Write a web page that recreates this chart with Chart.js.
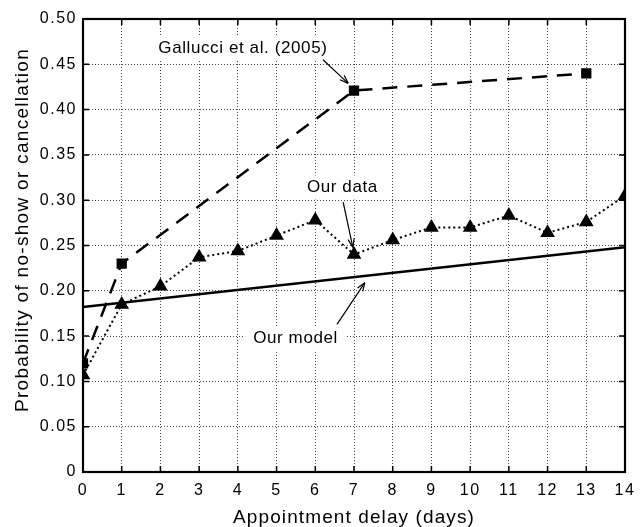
<!DOCTYPE html>
<html>
<head>
<meta charset="utf-8">
<script src="https://cdn.jsdelivr.net/npm/chart.js@4.4.1/dist/chart.umd.min.js"></script>
<style>
  html, body { margin: 0; padding: 0; background: #fff; }
  #wrap { width: 643px; height: 527px; }
</style>
</head>
<body>
<div id="wrap"><canvas id="chart"></canvas></div>
<script>
// --- data ---
const delays = [0, 1, 2, 3, 4, 5, 6, 7, 8, 9, 10, 11, 12, 13, 14];
const ourData = [0.107, 0.185, 0.205, 0.237, 0.244, 0.261, 0.278, 0.240, 0.256, 0.270, 0.270, 0.283, 0.264, 0.276, 0.305];
const galDelays = [0, 1, 7, 13];
const galValues = [0.120, 0.230, 0.421, 0.440];
const modelDelays = [0, 14];
const modelValues = [0.182, 0.248];
const xTicks = [0, 1, 2, 3, 4, 5, 6, 7, 8, 9, 10, 11, 12, 13, 14];
const yTicks = [0, 0.05, 0.10, 0.15, 0.20, 0.25, 0.30, 0.35, 0.40, 0.45, 0.50];
const yTickLabels = ['0', '0.05', '0.10', '0.15', '0.20', '0.25', '0.30', '0.35', '0.40', '0.45', '0.50'];
const xTitle = 'Appointment delay (days)';
const yTitle = 'Probability of no-show or cancellation';

// annotation labels: text at (x, y), arrow from -> to (data units)
const notes = [
  { text: 'Gallucci et al. (2005)', x: 4.13, y: 0.468, from: [6.2, 0.455], to: [6.85, 0.429] },
  { text: 'Our data', x: 6.70, y: 0.314, from: [6.72, 0.298], to: [6.97, 0.248] },
  { text: 'Our model', x: 5.49, y: 0.148, from: [6.56, 0.163], to: [7.28, 0.209] },
];

const FONT = '"Liberation Sans", Arial, Helvetica, sans-serif';

const toXY = (xs, ys) => xs.map((x, i) => ({ x, y: ys[i] }));

// the original lettering is wider than Liberation Sans, so open it up a bit
const notesPlugin = {
  id: 'notes',
  beforeDraw(chart) {
    chart.ctx.letterSpacing = '1.5px';
  },
  beforeDatasetsDraw(chart) {
    // white boxes behind the labels (they hide the grid)
    const { ctx, scales: { x, y } } = chart;
    ctx.save();
    ctx.font = `17px ${FONT}`;
    ctx.letterSpacing = '0.6px';
    notes.forEach(n => {
      const w = ctx.measureText(n.text).width;
      const cx = x.getPixelForValue(n.x), cy = y.getPixelForValue(n.y);
      ctx.fillStyle = '#fff';
      ctx.fillRect(cx - w / 2 - 8, cy - 12, w + 16, 24);
    });
    ctx.restore();
  },
  afterDatasetsDraw(chart) {
    const { ctx, scales: { x, y } } = chart;
    ctx.save();
    ctx.font = `17px ${FONT}`;
    ctx.letterSpacing = '0.6px';
    ctx.fillStyle = '#000';
    ctx.textAlign = 'center';
    ctx.textBaseline = 'middle';
    notes.forEach(n => {
      ctx.fillText(n.text, x.getPixelForValue(n.x), y.getPixelForValue(n.y));
      const x1 = x.getPixelForValue(n.from[0]), y1 = y.getPixelForValue(n.from[1]);
      const x2 = x.getPixelForValue(n.to[0]), y2 = y.getPixelForValue(n.to[1]);
      ctx.strokeStyle = '#000';
      ctx.lineWidth = 1.2;
      ctx.beginPath();
      ctx.moveTo(x1, y1);
      ctx.lineTo(x2, y2);
      ctx.stroke();
      const a = Math.atan2(y2 - y1, x2 - x1);
      ctx.beginPath();
      ctx.moveTo(x2, y2);
      ctx.lineTo(x2 - 9 * Math.cos(a - 0.35), y2 - 9 * Math.sin(a - 0.35));
      ctx.moveTo(x2, y2);
      ctx.lineTo(x2 - 9 * Math.cos(a + 0.35), y2 - 9 * Math.sin(a + 0.35));
      ctx.stroke();
    });
    ctx.restore();
  },
  afterDraw(chart) {
    const { ctx, chartArea: a, scales: { x, y } } = chart;
    ctx.save();
    // box + inward tick marks on all four sides
    ctx.strokeStyle = '#000';
    ctx.lineWidth = 1.5;
    xTicks.forEach(v => {
      const px = x.getPixelForValue(v);
      ctx.beginPath();
      ctx.moveTo(px, a.bottom); ctx.lineTo(px, a.bottom - 6);
      ctx.moveTo(px, a.top); ctx.lineTo(px, a.top + 6);
      ctx.stroke();
    });
    yTicks.forEach(v => {
      const py = y.getPixelForValue(v);
      ctx.beginPath();
      ctx.moveTo(a.left, py); ctx.lineTo(a.left + 6, py);
      ctx.moveTo(a.right, py); ctx.lineTo(a.right - 6, py);
      ctx.stroke();
    });
    ctx.lineWidth = 2.2;
    ctx.strokeRect(a.left, a.top, a.right - a.left, a.bottom - a.top);

    // axis titles
    ctx.fillStyle = '#000';
    ctx.textAlign = 'center';
    ctx.textBaseline = 'alphabetic';
    ctx.font = `19px ${FONT}`;
    ctx.letterSpacing = '1.1px';
    ctx.fillText(xTitle, (a.left + a.right) / 2, 523);
    ctx.translate(28, 230);
    ctx.rotate(-Math.PI / 2);
    ctx.letterSpacing = '1.3px';
    ctx.fillText(yTitle, 0, 0);
    ctx.restore();
  }
};

new Chart(document.getElementById('chart'), {
  type: 'scatter',
  data: {
    datasets: [
      {
        label: 'Gallucci et al. (2005)',
        data: toXY(galDelays, galValues),
        showLine: true,
        borderColor: '#000',
        backgroundColor: '#000',
        borderWidth: 2.5,
        borderDash: [15, 10],
        pointStyle: 'rect',
        pointRadius: 5.5,
        pointHoverRadius: 5.5,
      },
      {
        label: 'Our data',
        data: toXY(delays, ourData),
        showLine: true,
        borderColor: '#000',
        backgroundColor: '#000',
        borderWidth: 2,
        borderDash: [2, 3],
        pointStyle: 'triangle',
        pointRadius: 6.5,
        pointHoverRadius: 6.5,
      },
      {
        label: 'Our model',
        data: toXY(modelDelays, modelValues),
        showLine: true,
        borderColor: '#000',
        borderWidth: 2.5,
        pointRadius: 0,
        pointHoverRadius: 0,
      },
    ]
  },
  options: {
    responsive: true,
    maintainAspectRatio: false,
    animation: false,
    layout: { padding: { top: 19, right: 18, left: 0, bottom: 0 } },
    plugins: {
      legend: { display: false },
      tooltip: { enabled: false },
    },
    scales: {
      x: {
        type: 'linear',
        min: 0,
        max: 14,
        afterBuildTicks: s => { s.ticks = xTicks.map(v => ({ value: v })); },
        afterFit: s => { s.height = 55; },
        grid: { color: '#444', lineWidth: 1, drawTicks: false },
        border: { display: false, dash: [1, 2] },
        ticks: { color: '#000', padding: 9, font: { size: 16, family: FONT }, maxRotation: 0 },
      },
      y: {
        type: 'linear',
        min: 0,
        max: 0.5,
        afterBuildTicks: s => { s.ticks = yTicks.map(v => ({ value: v })); },
        afterFit: s => { s.width = 83; },
        grid: { color: '#444', lineWidth: 1, drawTicks: false },
        border: { display: false, dash: [1, 2] },
        ticks: {
          color: '#000',
          padding: 6,
          font: { size: 16, family: FONT },
          callback: (v, i) => yTickLabels[i],
        },
      }
    }
  },
  plugins: [notesPlugin]
});
</script>
</body>
</html>
